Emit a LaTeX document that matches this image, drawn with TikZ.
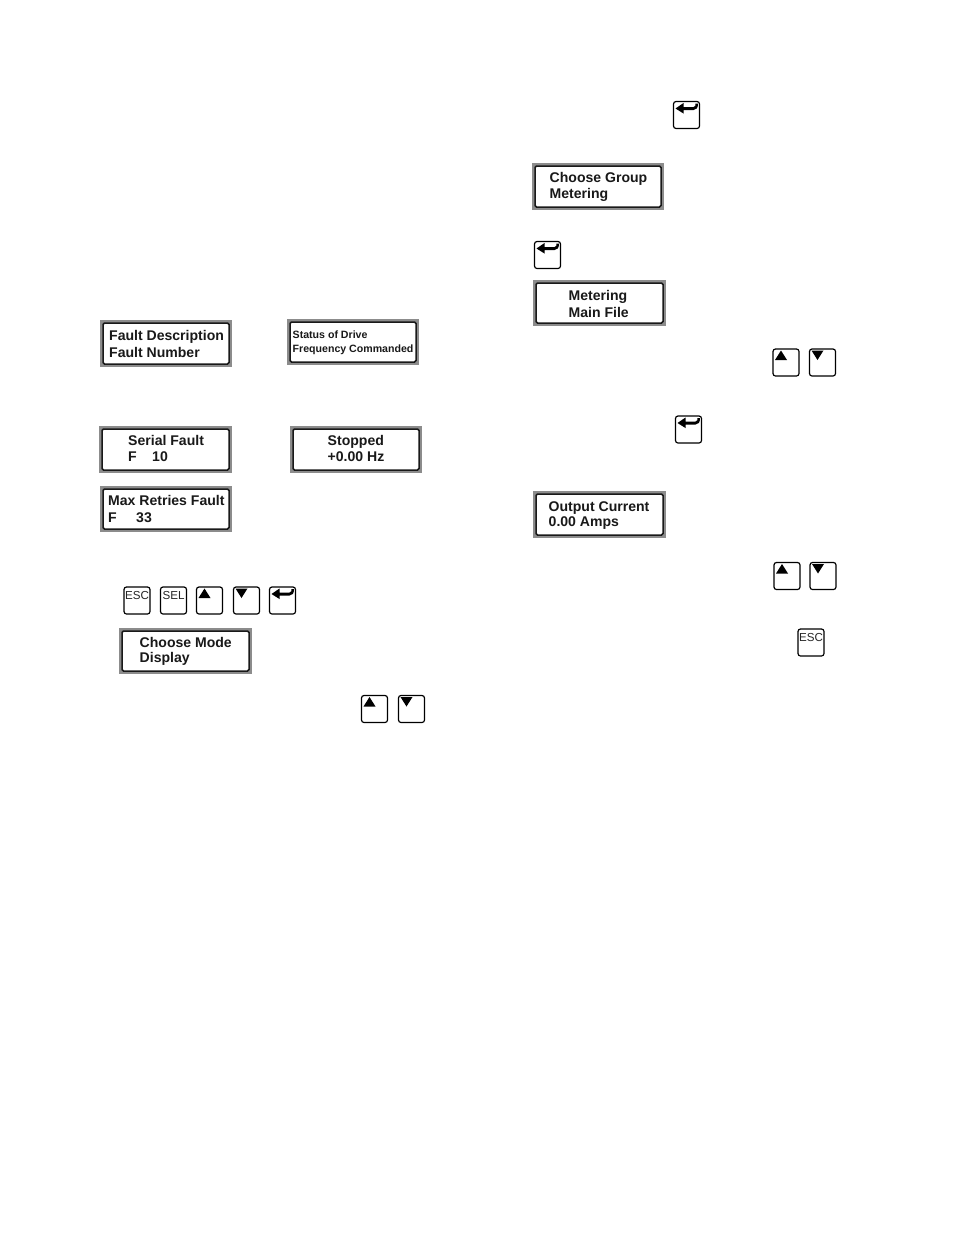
\documentclass[tikz,border=0pt]{standalone}
\usepackage{fontspec}
\setmainfont{Liberation Sans}
\begin{document}
\begin{tikzpicture}[x=1pt,y=-1pt,
  lcdouter/.style={fill=black!45,draw=none},
  lcdinner/.style={fill=white,draw=black!90,line width=1.5pt,rounded corners=1.5pt,outer sep=0pt},
  lcdtext/.style={anchor=base west,inner sep=0pt,font=\fontsize{14.05}{16}\selectfont\bfseries,text=black!90},
  lcdsmall/.style={anchor=base west,inner sep=0pt,font=\fontsize{10.6}{12}\selectfont\bfseries,text=black!90},
  keybox/.style={draw=black,line width=1.2pt,rounded corners=2.5pt,fill=white,minimum width=26pt,minimum height=27pt,inner sep=0pt,outer sep=0pt},
  keysym/.style={fill=black,draw=none}]
\useasboundingbox (0,0) rectangle (954,1235);
\newcommand{\lcdbox}[5]{%
  \fill[lcdouter] (#2,#3) rectangle (#4,#5);
  \node[lcdinner,inner sep=0pt,anchor=north west,minimum width=#4pt-#2pt-6pt,minimum height=#5pt-#3pt-6pt] (#1) at (#2+3,#3+3) {};}
\newcommand{\keyup}[3]{\node[keybox] (#1) at (#2,#3) {};
  \fill[keysym] (#2-11,#3-2.5) -- (#2-5,#3-12) -- (#2+1,#3-2.5) -- cycle;}
\newcommand{\keydown}[3]{\node[keybox] (#1) at (#2,#3) {};
  \fill[keysym] (#2-11,#3-12) -- (#2+1,#3-12) -- (#2-5,#3-2.5) -- cycle;}
\newcommand{\keyenter}[3]{\node[keybox] (#1) at (#2,#3) {};
  \fill[keysym] (#2-11,#3-6.5) -- (#2-3,#3-12) -- (#2-3,#3-8) -- (#2+7,#3-8) .. controls (#2+9,#3-8) and (#2+9,#3-10) .. (#2+9,#3-11.5) -- (#2+11.5,#3-11.5) .. controls (#2+11.5,#3-7) and (#2+10,#3-5) .. (#2+7,#3-5) -- (#2-3,#3-5) -- (#2-3,#3-1.5) -- cycle;}
\newcommand{\keytext}[4]{\node[keybox] (#1) at (#2,#3) {};
  \node[anchor=north,inner sep=0pt,font=\fontsize{11.6}{13}\selectfont,text=black!85] (#1t) at (#2,#3-9.5) {#4};}

\lcdbox{fd}{100}{320}{232}{367}
\node[lcdtext] (fd1) at (109,340) {Fault Description};
\node[lcdtext] (fd2) at (109,357) {Fault Number};

\lcdbox{sd}{287}{319}{419}{365}
\node[lcdsmall] (sd1) at (292.5,338) {Status of Drive};
\node[lcdsmall] (sd2) at (292.5,352) {Frequency Commanded};

\lcdbox{sf}{99}{426}{232}{473}
\node[lcdtext] (sf1) at (128,445) {Serial Fault};
\node[lcdtext] (sf2) at (128,461) {F};
\node[lcdtext] (sf3) at (152,461) {10};

\lcdbox{st}{290}{426}{422}{473}
\node[lcdtext] (st1) at (327.5,445) {Stopped};
\node[lcdtext] (st2) at (327.5,461) {+0.00 Hz};

\lcdbox{mr}{100}{486}{232}{532}
\node[lcdtext] (mr1) at (108,505) {Max Retries Fault};
\node[lcdtext] (mr2) at (108,522) {F};
\node[lcdtext] (mr3) at (136,522) {33};

\keytext{k1}{137}{600.5}{ESC}
\keytext{k2}{173.5}{600.5}{SEL}
\keyup{k3}{209.5}{600.5}
\keydown{k4}{246.5}{600.5}
\keyenter{k5}{282.5}{600.5}

\lcdbox{cm}{119}{628}{252}{674}
\node[lcdtext] (cm1) at (139.5,647) {Choose Mode};
\node[lcdtext] (cm2) at (139.5,662) {Display};

\keyup{k6}{374.5}{709}
\keydown{k7}{411.5}{709}

\keyenter{k8}{686.5}{115}

\lcdbox{cg}{532}{163}{664}{210}
\node[lcdtext] (cg1) at (549.5,182) {Choose Group};
\node[lcdtext] (cg2) at (549.5,198) {Metering};

\keyenter{k9}{547.5}{255}

\lcdbox{me}{533}{280}{666}{326}
\node[lcdtext] (me1) at (568.5,300) {Metering};
\node[lcdtext] (me2) at (568.5,317) {Main File};

\keyup{k10}{786}{362.5}
\keydown{k11}{822.5}{362.5}

\keyenter{k12}{688.5}{429.5}

\lcdbox{oc}{533}{491}{666}{538}
\node[lcdtext] (oc1) at (548.5,511) {Output Current};
\node[lcdtext] (oc2) at (548.5,526) {0.00 Amps};

\keyup{k13}{787}{576}
\keydown{k14}{823}{576}

\keytext{k15}{811}{642.5}{ESC}
\end{tikzpicture}
\end{document}
